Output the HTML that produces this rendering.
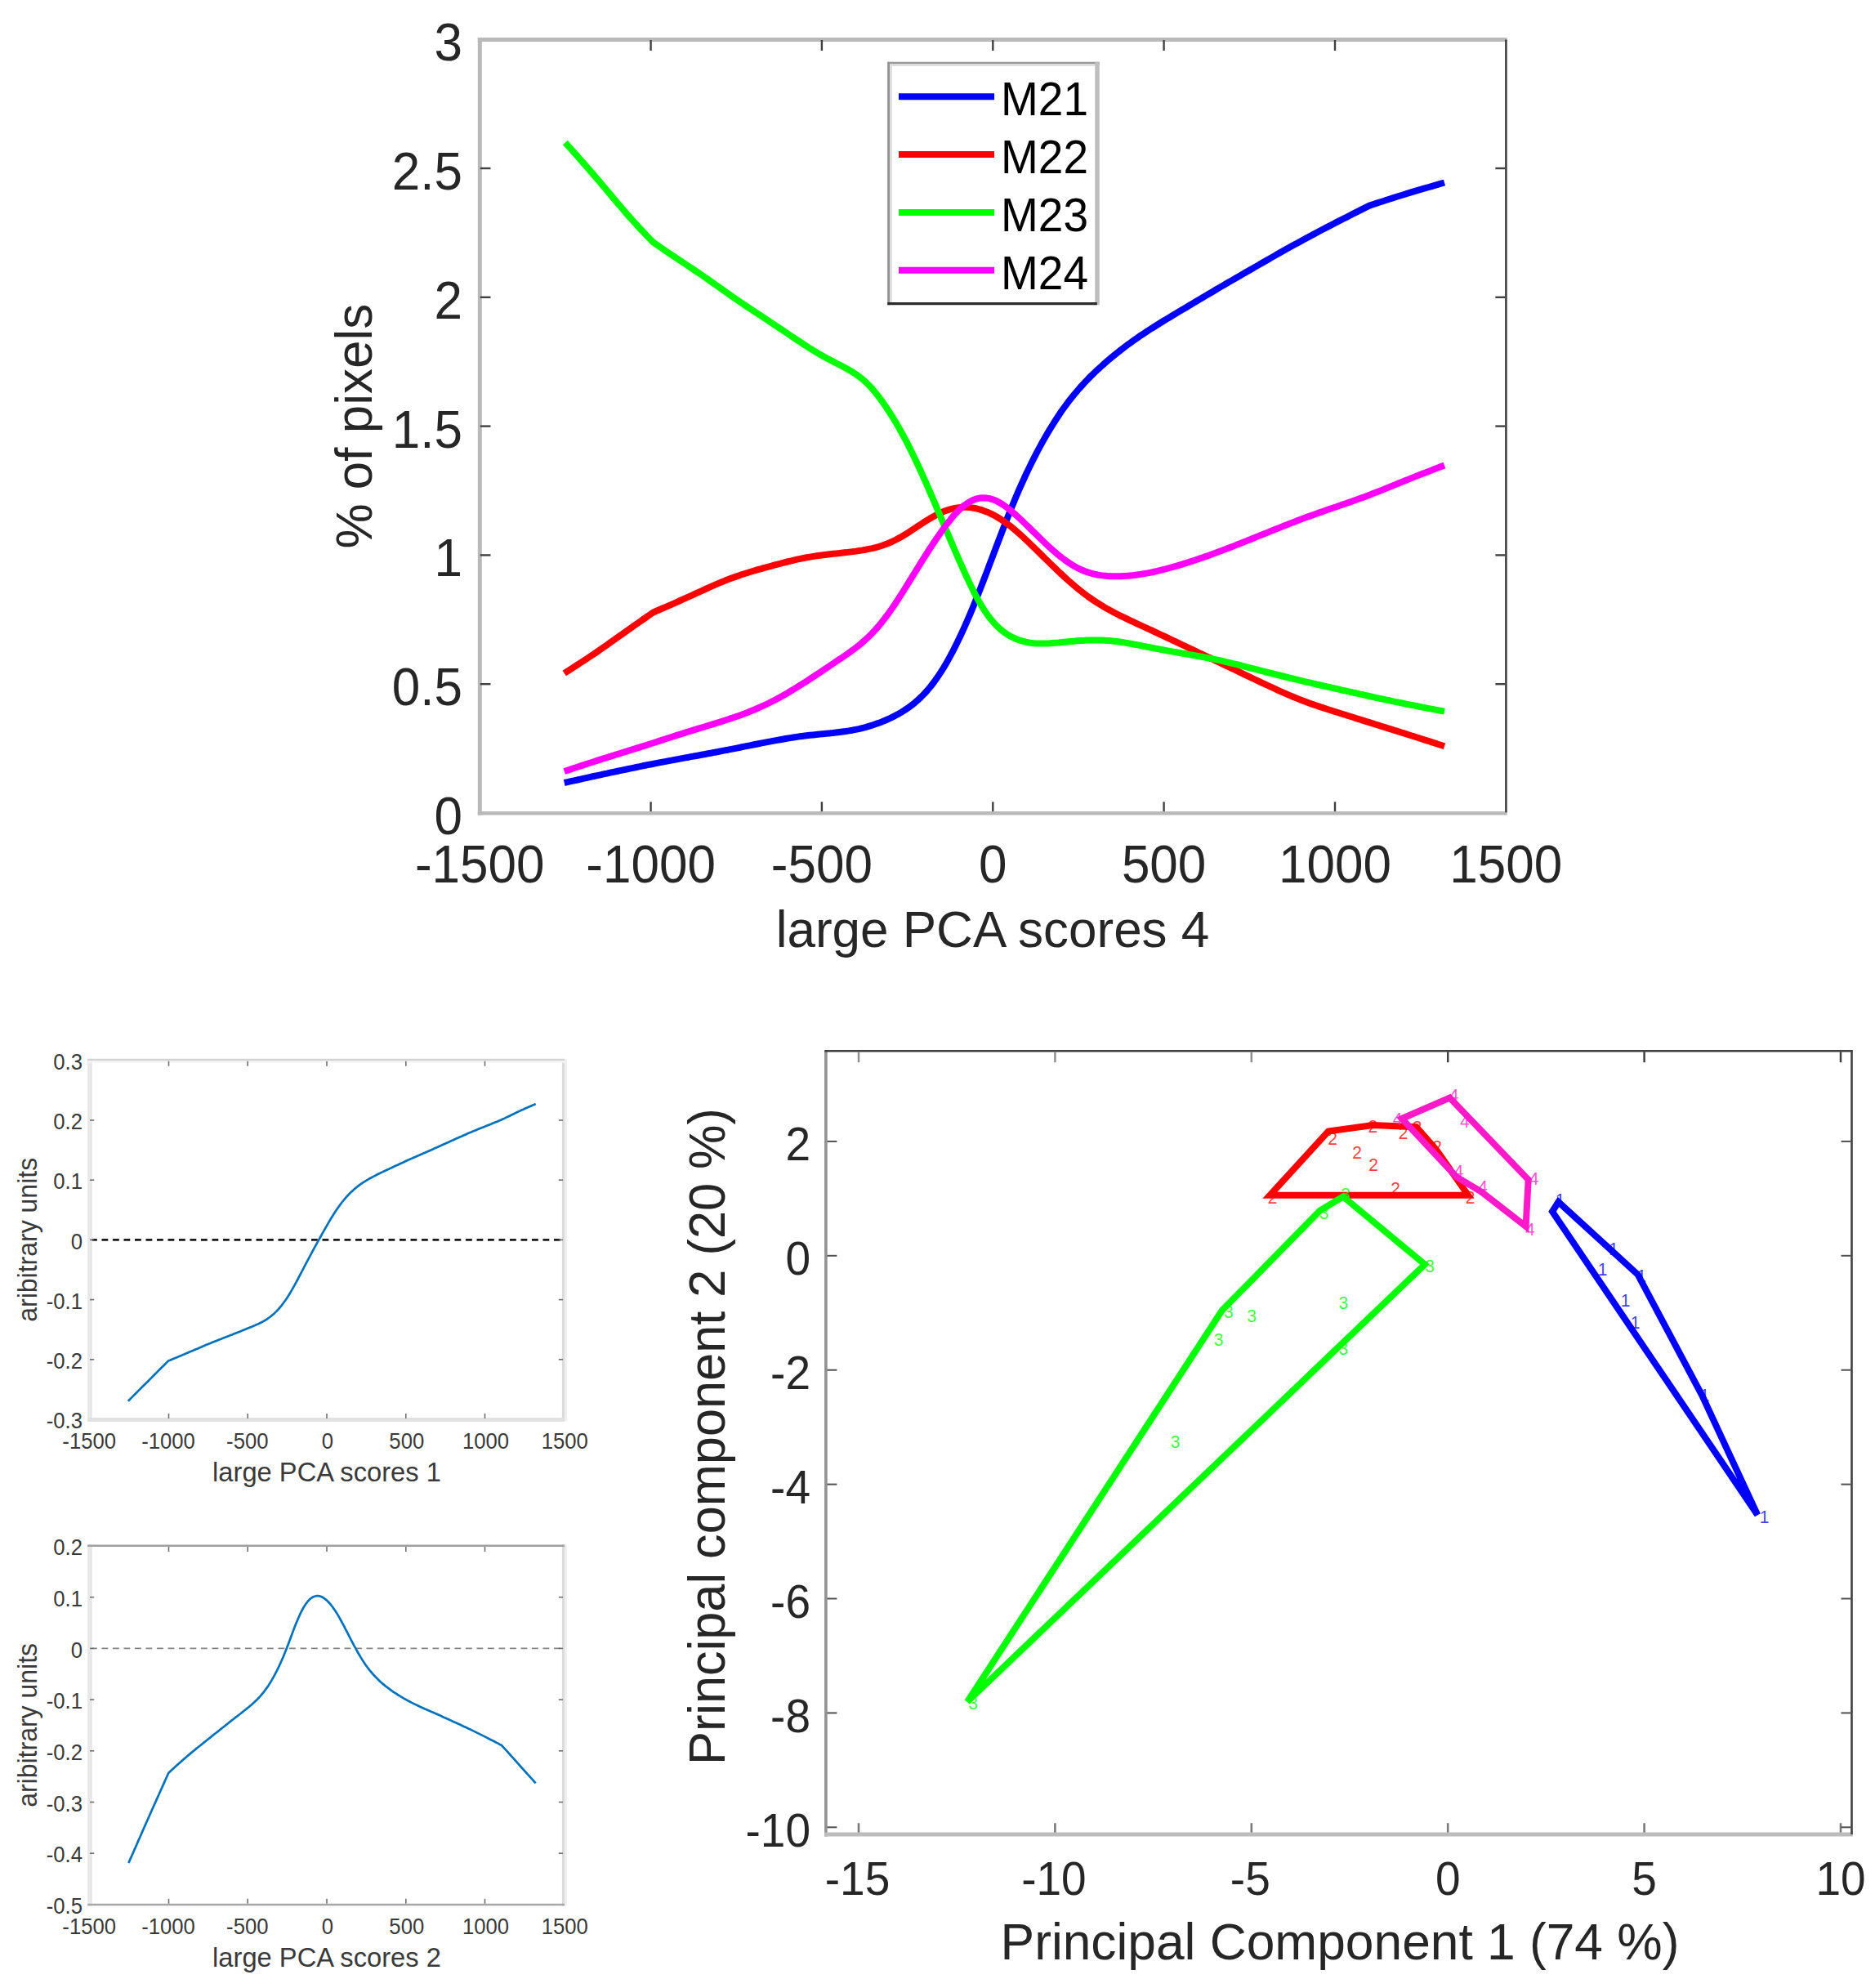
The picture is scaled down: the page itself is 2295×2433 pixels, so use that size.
<!DOCTYPE html>
<html><head><meta charset="utf-8"><title>PCA scores figure</title>
<style>
html,body{margin:0;padding:0;background:#fff;}
body{width:2295px;height:2433px;overflow:hidden;}
svg{display:block;font-family:'Liberation Sans', sans-serif;}
</style></head><body>
<svg width="2295" height="2433" viewBox="0 0 2295 2433">
<rect width="2295" height="2433" fill="#fff"/>
<g id="chartA">
<path d="M690.7 958 L694.7 957.1 L698.7 956.2 L702.7 955.3 L706.7 954.5 L710.7 953.6 L714.7 952.7 L718.7 951.8 L722.7 950.9 L726.8 950 L730.8 949.2 L734.8 948.3 L738.8 947.4 L742.8 946.6 L746.8 945.7 L750.8 944.8 L754.8 944 L758.8 943.1 L762.8 942.3 L766.8 941.5 L770.8 940.6 L774.8 939.8 L778.8 939 L782.8 938.2 L786.8 937.3 L790.9 936.5 L794.9 935.7 L798.9 935 L802.9 934.2 L806.9 933.4 L810.9 932.6 L814.9 931.9 L818.9 931.1 L822.9 930.4 L826.9 929.6 L830.9 928.9 L834.9 928.1 L838.9 927.4 L842.9 926.7 L846.9 925.9 L850.9 925.2 L855 924.5 L859 923.7 L863 923 L867 922.2 L871 921.5 L875 920.7 L879 920 L883 919.2 L887 918.4 L891 917.7 L895 916.9 L899 916.1 L903 915.3 L907 914.5 L911 913.7 L915 912.9 L919 912.1 L923.1 911.3 L927.1 910.5 L931.1 909.7 L935.1 908.9 L939.1 908.1 L943.1 907.4 L947.1 906.6 L951.1 905.9 L955.1 905.2 L959.1 904.5 L963.1 903.8 L967.1 903.1 L971.1 902.5 L975.1 901.9 L979.1 901.3 L983.1 900.8 L987.2 900.3 L991.2 899.8 L995.2 899.4 L999.2 899 L1003.2 898.6 L1007.2 898.2 L1011.2 897.8 L1015.2 897.4 L1019.2 897 L1023.2 896.5 L1027.2 896 L1031.2 895.5 L1035.2 895 L1039.2 894.4 L1043.2 893.7 L1047.2 892.9 L1051.2 892.1 L1055.3 891.1 L1059.3 890.1 L1063.3 888.9 L1067.3 887.7 L1071.3 886.3 L1075.3 884.9 L1079.3 883.4 L1083.3 881.7 L1087.3 880 L1091.3 878.1 L1095.3 876.1 L1099.3 873.9 L1103.3 871.6 L1107.3 869.1 L1111.3 866.4 L1115.3 863.5 L1119.4 860.3 L1123.4 856.8 L1127.4 853 L1131.4 849 L1135.4 844.5 L1139.4 839.7 L1143.4 834.5 L1147.4 828.9 L1151.4 822.9 L1155.4 816.5 L1159.4 809.7 L1163.4 802.4 L1167.4 794.8 L1171.4 786.8 L1175.4 778.5 L1179.4 769.8 L1183.5 760.7 L1187.5 751.4 L1191.5 741.7 L1195.5 731.8 L1199.5 721.6 L1203.5 711.3 L1207.5 700.8 L1211.5 690.2 L1215.5 679.6 L1219.5 669 L1223.5 658.5 L1227.5 648.1 L1231.5 637.8 L1235.5 627.7 L1239.5 617.9 L1243.5 608.2 L1247.5 598.9 L1251.6 589.8 L1255.6 581 L1259.6 572.6 L1263.6 564.4 L1267.6 556.6 L1271.6 549 L1275.6 541.7 L1279.6 534.6 L1283.6 527.8 L1287.6 521.2 L1291.6 514.8 L1295.6 508.7 L1299.6 502.8 L1303.6 497.2 L1307.6 491.8 L1311.6 486.7 L1315.7 481.7 L1319.7 477 L1323.7 472.5 L1327.7 468.1 L1331.7 463.9 L1335.7 459.9 L1339.7 456 L1343.7 452.2 L1347.7 448.6 L1351.7 445 L1355.7 441.5 L1359.7 438.2 L1363.7 434.9 L1367.7 431.6 L1371.7 428.5 L1375.7 425.4 L1379.7 422.3 L1383.8 419.4 L1387.8 416.5 L1391.8 413.7 L1395.8 410.9 L1399.8 408.3 L1403.8 405.6 L1407.8 403 L1411.8 400.5 L1415.8 398 L1419.8 395.5 L1423.8 393 L1427.8 390.6 L1431.8 388.2 L1435.8 385.8 L1439.8 383.4 L1443.8 380.9 L1447.9 378.6 L1451.9 376.2 L1455.9 373.8 L1459.9 371.4 L1463.9 369 L1467.9 366.6 L1471.9 364.2 L1475.9 361.9 L1479.9 359.5 L1483.9 357.2 L1487.9 354.8 L1491.9 352.4 L1495.9 350.1 L1499.9 347.8 L1503.9 345.4 L1507.9 343.1 L1512 340.8 L1516 338.5 L1520 336.1 L1524 333.8 L1528 331.5 L1532 329.2 L1536 326.9 L1540 324.6 L1544 322.3 L1548 320 L1552 317.7 L1556 315.4 L1560 313.1 L1564 310.8 L1568 308.5 L1572 306.3 L1576 304 L1580.1 301.8 L1584.1 299.6 L1588.1 297.4 L1592.1 295.2 L1596.1 293 L1600.1 290.9 L1604.1 288.7 L1608.1 286.6 L1612.1 284.4 L1616.1 282.3 L1620.1 280.2 L1624.1 278.1 L1628.1 276.1 L1632.1 274 L1636.1 271.9 L1640.1 269.9 L1644.2 267.8 L1648.2 265.8 L1652.2 263.7 L1656.2 261.7 L1660.2 259.7 L1664.2 257.7 L1668.2 255.6 L1672.2 253.6 L1676.2 251.6 L1680.4 250.2 L1684.5 248.9 L1688.7 247.5 L1692.9 246.2 L1697.1 244.8 L1701.2 243.5 L1705.4 242.1 L1709.6 240.8 L1713.8 239.5 L1717.9 238.2 L1722.1 236.9 L1726.3 235.6 L1730.4 234.4 L1734.6 233.1 L1738.8 231.9 L1743 230.7 L1747.1 229.5 L1751.3 228.3 L1755.5 227.1 L1759.7 225.9 L1763.8 224.7 L1768 223.5" fill="none" stroke="#0000ff" stroke-width="8" stroke-linejoin="round"/>
<path d="M690.7 824 L694.7 821.4 L698.8 818.8 L702.8 816.2 L706.8 813.6 L710.8 811 L714.9 808.4 L718.9 805.7 L722.9 803 L727 800.3 L731 797.6 L735 794.8 L739.1 792 L743.1 789.2 L747.1 786.3 L751.1 783.5 L755.2 780.6 L759.2 777.8 L763.2 774.9 L767.3 772 L771.3 769.2 L775.3 766.3 L779.4 763.5 L783.4 760.7 L787.4 757.9 L791.4 755.1 L795.5 752.3 L799.5 749.5 L803.5 747.8 L807.5 746 L811.5 744.3 L815.5 742.6 L819.5 740.8 L823.5 739.1 L827.5 737.3 L831.5 735.5 L835.5 733.7 L839.5 731.9 L843.5 730.1 L847.5 728.3 L851.5 726.4 L855.5 724.6 L859.5 722.8 L863.5 721 L867.5 719.2 L871.5 717.4 L875.5 715.6 L879.5 713.9 L883.5 712.3 L887.5 710.6 L891.5 709.1 L895.5 707.5 L899.6 706.1 L903.6 704.7 L907.6 703.3 L911.6 702 L915.6 700.8 L919.6 699.5 L923.6 698.4 L927.6 697.2 L931.6 696.1 L935.6 694.9 L939.6 693.9 L943.6 692.8 L947.6 691.7 L951.6 690.6 L955.6 689.6 L959.6 688.5 L963.6 687.5 L967.6 686.6 L971.6 685.6 L975.6 684.7 L979.6 683.8 L983.6 683 L987.6 682.3 L991.6 681.6 L995.6 680.9 L999.6 680.3 L1003.6 679.8 L1007.6 679.3 L1011.6 678.8 L1015.6 678.3 L1019.6 677.8 L1023.6 677.4 L1027.6 677 L1031.6 676.5 L1035.6 676.1 L1039.6 675.6 L1043.6 675.1 L1047.6 674.6 L1051.6 674 L1055.6 673.4 L1059.6 672.7 L1063.6 671.9 L1067.6 671.1 L1071.6 670.1 L1075.6 669 L1079.6 667.7 L1083.6 666.3 L1087.6 664.7 L1091.7 663 L1095.7 661 L1099.7 658.9 L1103.7 656.7 L1107.7 654.3 L1111.7 651.8 L1115.7 649.2 L1119.7 646.5 L1123.7 643.9 L1127.7 641.2 L1131.7 638.6 L1135.7 636.1 L1139.7 633.7 L1143.7 631.5 L1147.7 629.4 L1151.7 627.5 L1155.7 625.8 L1159.7 624.3 L1163.7 623.1 L1167.7 622.1 L1171.7 621.4 L1175.7 621 L1179.7 620.8 L1183.7 620.8 L1187.7 621.1 L1191.7 621.7 L1195.7 622.5 L1199.7 623.6 L1203.7 624.9 L1207.7 626.4 L1211.7 628.1 L1215.7 630.1 L1219.7 632.3 L1223.7 634.7 L1227.7 637.3 L1231.7 640.2 L1235.7 643.2 L1239.7 646.4 L1243.7 649.8 L1247.7 653.3 L1251.7 656.9 L1255.7 660.6 L1259.7 664.4 L1263.7 668.3 L1267.7 672.2 L1271.7 676.1 L1275.7 680.1 L1279.7 684 L1283.8 688 L1287.8 691.9 L1291.8 695.7 L1295.8 699.6 L1299.8 703.3 L1303.8 707 L1307.8 710.6 L1311.8 714.1 L1315.8 717.5 L1319.8 720.8 L1323.8 724 L1327.8 727.1 L1331.8 730.1 L1335.8 732.9 L1339.8 735.6 L1343.8 738.2 L1347.8 740.7 L1351.8 743.1 L1355.8 745.4 L1359.8 747.6 L1363.8 749.7 L1367.8 751.8 L1371.8 753.8 L1375.8 755.7 L1379.8 757.7 L1383.8 759.6 L1387.8 761.4 L1391.8 763.3 L1395.8 765.1 L1399.8 767 L1403.8 768.8 L1407.8 770.7 L1411.8 772.5 L1415.8 774.4 L1419.8 776.3 L1423.8 778.2 L1427.8 780 L1431.8 781.9 L1435.8 783.8 L1439.8 785.7 L1443.8 787.6 L1447.8 789.5 L1451.8 791.4 L1455.8 793.3 L1459.8 795.2 L1463.8 797.1 L1467.8 799 L1471.8 800.9 L1475.8 802.8 L1479.9 804.7 L1483.9 806.7 L1487.9 808.6 L1491.9 810.5 L1495.9 812.4 L1499.9 814.3 L1503.9 816.2 L1507.9 818.1 L1511.9 820 L1515.9 821.9 L1519.9 823.9 L1523.9 825.8 L1527.9 827.7 L1531.9 829.6 L1535.9 831.5 L1539.9 833.4 L1543.9 835.3 L1547.9 837.1 L1551.9 839 L1555.9 840.9 L1559.9 842.7 L1563.9 844.6 L1567.9 846.4 L1571.9 848.1 L1575.9 849.9 L1579.9 851.6 L1583.9 853.3 L1587.9 854.9 L1591.9 856.5 L1595.9 858 L1599.9 859.5 L1603.9 861 L1607.9 862.4 L1611.9 863.7 L1615.9 865.1 L1619.9 866.4 L1623.9 867.7 L1627.9 869 L1631.9 870.3 L1635.9 871.5 L1639.9 872.8 L1643.9 874 L1647.9 875.3 L1651.9 876.5 L1655.9 877.8 L1659.9 879.1 L1663.9 880.3 L1667.9 881.6 L1672 882.9 L1676 884.1 L1680 885.4 L1684 886.7 L1688 887.9 L1692 889.2 L1696 890.4 L1700 891.7 L1704 892.9 L1708 894.2 L1712 895.4 L1716 896.7 L1720 897.9 L1724 899.2 L1728 900.5 L1732 901.7 L1736 903 L1740 904.3 L1744 905.6 L1748 906.8 L1752 908.1 L1756 909.4 L1760 910.7 L1764 912 L1768 913.3" fill="none" stroke="#ff0000" stroke-width="8" stroke-linejoin="round"/>
<path d="M691.9 174.5 L696 179.1 L700.2 183.8 L704.3 188.4 L708.5 193.1 L712.6 197.8 L716.7 202.5 L720.9 207.3 L725 212 L729.1 216.9 L733.3 221.7 L737.4 226.6 L741.6 231.5 L745.7 236.4 L749.8 241.4 L754 246.3 L758.1 251.1 L762.3 256 L766.4 260.8 L770.5 265.5 L774.7 270.1 L778.8 274.7 L782.9 279.2 L787.1 283.6 L791.2 287.9 L795.4 292.2 L799.5 296.5 L803.5 299.3 L807.5 302 L811.5 304.7 L815.5 307.5 L819.5 310.2 L823.5 312.8 L827.5 315.5 L831.5 318.2 L835.5 320.8 L839.5 323.5 L843.5 326.2 L847.5 328.8 L851.5 331.6 L855.5 334.3 L859.5 337 L863.5 339.8 L867.5 342.6 L871.5 345.4 L875.5 348.2 L879.5 351.1 L883.5 353.9 L887.5 356.7 L891.5 359.6 L895.5 362.4 L899.6 365.2 L903.6 367.9 L907.6 370.7 L911.6 373.4 L915.6 376.1 L919.6 378.7 L923.6 381.4 L927.6 384 L931.6 386.6 L935.6 389.3 L939.6 391.9 L943.6 394.6 L947.6 397.3 L951.6 399.9 L955.6 402.6 L959.6 405.3 L963.6 408 L967.6 410.7 L971.6 413.4 L975.6 416.1 L979.6 418.7 L983.6 421.4 L987.6 423.9 L991.6 426.5 L995.6 428.9 L999.6 431.4 L1003.6 433.7 L1007.6 436 L1011.6 438.2 L1015.6 440.3 L1019.6 442.4 L1023.6 444.5 L1027.6 446.5 L1031.6 448.6 L1035.6 450.7 L1039.6 453 L1043.6 455.4 L1047.6 458 L1051.6 460.8 L1055.6 464 L1059.6 467.5 L1063.6 471.5 L1067.6 475.8 L1071.6 480.5 L1075.6 485.6 L1079.6 491 L1083.6 496.8 L1087.6 502.8 L1091.7 509.1 L1095.7 515.7 L1099.7 522.5 L1103.7 529.7 L1107.7 537 L1111.7 544.7 L1115.7 552.7 L1119.7 560.9 L1123.7 569.5 L1127.7 578.2 L1131.7 587.1 L1135.7 596.2 L1139.7 605.4 L1143.7 614.7 L1147.7 624 L1151.7 633.4 L1155.7 642.8 L1159.7 652.2 L1163.7 661.6 L1167.7 671 L1171.7 680.3 L1175.7 689.4 L1179.7 698.4 L1183.7 707.2 L1187.7 715.6 L1191.7 723.7 L1195.7 731.4 L1199.7 738.5 L1203.7 745.1 L1207.7 751.1 L1211.7 756.5 L1215.7 761.3 L1219.7 765.6 L1223.7 769.4 L1227.7 772.7 L1231.7 775.6 L1235.7 778.1 L1239.7 780.2 L1243.7 782 L1247.7 783.5 L1251.7 784.7 L1255.7 785.7 L1259.7 786.5 L1263.7 787 L1267.7 787.4 L1271.7 787.6 L1275.7 787.6 L1279.7 787.6 L1283.8 787.4 L1287.8 787.1 L1291.8 786.8 L1295.8 786.5 L1299.8 786.1 L1303.8 785.7 L1307.8 785.3 L1311.8 784.9 L1315.8 784.6 L1319.8 784.3 L1323.8 784 L1327.8 783.8 L1331.8 783.6 L1335.8 783.5 L1339.8 783.5 L1343.8 783.5 L1347.8 783.6 L1351.8 783.8 L1355.8 784 L1359.8 784.3 L1363.8 784.7 L1367.8 785.2 L1371.8 785.8 L1375.8 786.4 L1379.8 787 L1383.8 787.7 L1387.8 788.5 L1391.8 789.2 L1395.8 790 L1399.8 790.8 L1403.8 791.6 L1407.8 792.4 L1411.8 793.2 L1415.8 793.9 L1419.8 794.7 L1423.8 795.4 L1427.8 796.2 L1431.8 796.9 L1435.8 797.6 L1439.8 798.3 L1443.8 799 L1447.8 799.7 L1451.8 800.4 L1455.8 801.1 L1459.8 801.8 L1463.8 802.5 L1467.8 803.2 L1471.8 804 L1475.8 804.7 L1479.9 805.5 L1483.9 806.3 L1487.9 807.2 L1491.9 808 L1495.9 808.9 L1499.9 809.9 L1503.9 810.8 L1507.9 811.8 L1511.9 812.7 L1515.9 813.7 L1519.9 814.7 L1523.9 815.8 L1527.9 816.8 L1531.9 817.8 L1535.9 818.9 L1539.9 819.9 L1543.9 820.9 L1547.9 822 L1551.9 823 L1555.9 824 L1559.9 825 L1563.9 826 L1567.9 827 L1571.9 828 L1575.9 829 L1579.9 830 L1583.9 831 L1587.9 831.9 L1591.9 832.9 L1595.9 833.9 L1599.9 834.8 L1603.9 835.7 L1607.9 836.6 L1611.9 837.6 L1615.9 838.5 L1619.9 839.4 L1623.9 840.3 L1627.9 841.2 L1631.9 842.1 L1635.9 843 L1639.9 843.9 L1643.9 844.8 L1647.9 845.7 L1651.9 846.6 L1655.9 847.5 L1659.9 848.4 L1663.9 849.3 L1667.9 850.2 L1672 851.1 L1676 852 L1680 852.9 L1684 853.8 L1688 854.7 L1692 855.5 L1696 856.4 L1700 857.2 L1704 858.1 L1708 858.9 L1712 859.7 L1716 860.5 L1720 861.3 L1724 862.2 L1728 862.9 L1732 863.7 L1736 864.5 L1740 865.3 L1744 866.1 L1748 866.9 L1752 867.6 L1756 868.4 L1760 869.2 L1764 869.9 L1768 870.7" fill="none" stroke="#00ff00" stroke-width="8" stroke-linejoin="round"/>
<path d="M690.7 944 L694.7 942.7 L698.7 941.4 L702.7 940 L706.7 938.7 L710.7 937.4 L714.7 936.1 L718.7 934.8 L722.7 933.5 L726.7 932.2 L730.7 930.9 L734.8 929.6 L738.8 928.3 L742.8 927.1 L746.8 925.8 L750.8 924.6 L754.8 923.3 L758.8 922.1 L762.8 920.8 L766.8 919.6 L770.8 918.3 L774.8 917.1 L778.8 915.9 L782.8 914.6 L786.8 913.3 L790.8 912.1 L794.8 910.8 L798.8 909.5 L802.8 908.2 L806.8 906.9 L810.8 905.6 L814.8 904.3 L818.9 903 L822.9 901.7 L826.9 900.4 L830.9 899.1 L834.9 897.9 L838.9 896.6 L842.9 895.3 L846.9 894.1 L850.9 892.9 L854.9 891.7 L858.9 890.5 L862.9 889.3 L866.9 888 L870.9 886.8 L874.9 885.6 L878.9 884.3 L882.9 883.1 L886.9 881.8 L890.9 880.5 L894.9 879.1 L899 877.8 L903 876.4 L907 874.9 L911 873.4 L915 871.9 L919 870.3 L923 868.7 L927 867 L931 865.2 L935 863.4 L939 861.5 L943 859.5 L947 857.5 L951 855.4 L955 853.2 L959 851 L963 848.7 L967 846.3 L971 843.9 L975 841.4 L979 838.9 L983.1 836.4 L987.1 833.8 L991.1 831.2 L995.1 828.6 L999.1 825.9 L1003.1 823.3 L1007.1 820.6 L1011.1 817.9 L1015.1 815.2 L1019.1 812.5 L1023.1 809.8 L1027.1 807.2 L1031.1 804.5 L1035.1 801.8 L1039.1 799 L1043.1 796.1 L1047.1 793.1 L1051.1 790 L1055.1 786.6 L1059.1 783.1 L1063.1 779.3 L1067.2 775.3 L1071.2 771 L1075.2 766.5 L1079.2 761.6 L1083.2 756.5 L1087.2 751.2 L1091.2 745.5 L1095.2 739.7 L1099.2 733.6 L1103.2 727.4 L1107.2 721 L1111.2 714.6 L1115.2 708.1 L1119.2 701.6 L1123.2 695.2 L1127.2 688.7 L1131.2 682.3 L1135.2 676 L1139.2 669.8 L1143.2 663.7 L1147.3 657.7 L1151.3 651.9 L1155.3 646.3 L1159.3 640.9 L1163.3 635.9 L1167.3 631.1 L1171.3 626.7 L1175.3 622.8 L1179.3 619.3 L1183.3 616.4 L1187.3 613.9 L1191.3 611.9 L1195.3 610.5 L1199.3 609.6 L1203.3 609.2 L1207.3 609.4 L1211.3 610.1 L1215.3 611.3 L1219.3 612.9 L1223.3 615 L1227.3 617.5 L1231.4 620.3 L1235.4 623.4 L1239.4 626.7 L1243.4 630.2 L1247.4 633.9 L1251.4 637.6 L1255.4 641.5 L1259.4 645.3 L1263.4 649.3 L1267.4 653.2 L1271.4 657.1 L1275.4 661 L1279.4 664.9 L1283.4 668.6 L1287.4 672.3 L1291.4 675.8 L1295.4 679.2 L1299.4 682.4 L1303.4 685.4 L1307.4 688.2 L1311.4 690.8 L1315.5 693.2 L1319.5 695.4 L1323.5 697.3 L1327.5 699 L1331.5 700.4 L1335.5 701.6 L1339.5 702.7 L1343.5 703.5 L1347.5 704.1 L1351.5 704.6 L1355.5 705 L1359.5 705.2 L1363.5 705.3 L1367.5 705.3 L1371.5 705.2 L1375.5 705 L1379.5 704.8 L1383.5 704.4 L1387.5 704 L1391.5 703.5 L1395.6 702.9 L1399.6 702.3 L1403.6 701.6 L1407.6 700.8 L1411.6 700 L1415.6 699.1 L1419.6 698.1 L1423.6 697.1 L1427.6 696.1 L1431.6 695 L1435.6 693.9 L1439.6 692.8 L1443.6 691.6 L1447.6 690.4 L1451.6 689.1 L1455.6 687.9 L1459.6 686.6 L1463.6 685.2 L1467.6 683.9 L1471.6 682.5 L1475.6 681.1 L1479.7 679.7 L1483.7 678.2 L1487.7 676.8 L1491.7 675.3 L1495.7 673.8 L1499.7 672.3 L1503.7 670.7 L1507.7 669.2 L1511.7 667.6 L1515.7 666 L1519.7 664.5 L1523.7 662.9 L1527.7 661.3 L1531.7 659.7 L1535.7 658 L1539.7 656.4 L1543.7 654.8 L1547.7 653.2 L1551.7 651.6 L1555.7 650 L1559.7 648.3 L1563.8 646.7 L1567.8 645.1 L1571.8 643.6 L1575.8 642 L1579.8 640.4 L1583.8 638.9 L1587.8 637.3 L1591.8 635.8 L1595.8 634.3 L1599.8 632.8 L1603.8 631.4 L1607.8 629.9 L1611.8 628.5 L1615.8 627.1 L1619.8 625.7 L1623.8 624.3 L1627.8 622.9 L1631.8 621.5 L1635.8 620.2 L1639.8 618.8 L1643.9 617.4 L1647.9 616 L1651.9 614.6 L1655.9 613.2 L1659.9 611.8 L1663.9 610.3 L1667.9 608.9 L1671.9 607.4 L1675.9 605.9 L1679.9 604.3 L1683.9 602.8 L1687.9 601.2 L1691.9 599.6 L1695.9 598 L1699.9 596.4 L1703.9 594.8 L1707.9 593.1 L1711.9 591.5 L1715.9 589.9 L1719.9 588.2 L1723.9 586.6 L1728 585 L1732 583.4 L1736 581.8 L1740 580.3 L1744 578.7 L1748 577.2 L1752 575.6 L1756 574.1 L1760 572.6 L1764 571 L1768 569.5" fill="none" stroke="#ff00ff" stroke-width="8" stroke-linejoin="round"/>
<line x1="587.3" y1="46" x2="587.3" y2="997.6" stroke="#b9b9b9" stroke-width="5"/>
<line x1="584.8" y1="48.5" x2="1844.7" y2="48.5" stroke="#b9b9b9" stroke-width="5"/>
<line x1="584.8" y1="995.3" x2="1844.7" y2="995.3" stroke="#b9b9b9" stroke-width="4.6"/>
<line x1="1843.4" y1="48.5" x2="1843.4" y2="994.3" stroke="#404040" stroke-width="2.6"/>
<line x1="796.6" y1="993" x2="796.6" y2="981.3" stroke="#404040" stroke-width="2.4"/>
<line x1="796.6" y1="49" x2="796.6" y2="62" stroke="#404040" stroke-width="2.4"/>
<line x1="1005.9" y1="993" x2="1005.9" y2="981.3" stroke="#404040" stroke-width="2.4"/>
<line x1="1005.9" y1="49" x2="1005.9" y2="62" stroke="#404040" stroke-width="2.4"/>
<line x1="1215.3" y1="993" x2="1215.3" y2="981.3" stroke="#404040" stroke-width="2.4"/>
<line x1="1215.3" y1="49" x2="1215.3" y2="62" stroke="#404040" stroke-width="2.4"/>
<line x1="1424.6" y1="993" x2="1424.6" y2="981.3" stroke="#404040" stroke-width="2.4"/>
<line x1="1424.6" y1="49" x2="1424.6" y2="62" stroke="#404040" stroke-width="2.4"/>
<line x1="1634" y1="993" x2="1634" y2="981.3" stroke="#404040" stroke-width="2.4"/>
<line x1="1634" y1="49" x2="1634" y2="62" stroke="#404040" stroke-width="2.4"/>
<line x1="587.8" y1="837.2" x2="600.5" y2="837.2" stroke="#404040" stroke-width="2.4"/>
<line x1="1842.1" y1="837.2" x2="1830.4" y2="837.2" stroke="#404040" stroke-width="2.4"/>
<line x1="587.8" y1="679.4" x2="600.5" y2="679.4" stroke="#404040" stroke-width="2.4"/>
<line x1="1842.1" y1="679.4" x2="1830.4" y2="679.4" stroke="#404040" stroke-width="2.4"/>
<line x1="587.8" y1="521.6" x2="600.5" y2="521.6" stroke="#404040" stroke-width="2.4"/>
<line x1="1842.1" y1="521.6" x2="1830.4" y2="521.6" stroke="#404040" stroke-width="2.4"/>
<line x1="587.8" y1="363.8" x2="600.5" y2="363.8" stroke="#404040" stroke-width="2.4"/>
<line x1="1842.1" y1="363.8" x2="1830.4" y2="363.8" stroke="#404040" stroke-width="2.4"/>
<line x1="587.8" y1="206" x2="600.5" y2="206" stroke="#404040" stroke-width="2.4"/>
<line x1="1842.1" y1="206" x2="1830.4" y2="206" stroke="#404040" stroke-width="2.4"/>
<text x="0" y="0" font-size="62" text-anchor="middle" fill="#262626" transform="translate(587.2 1080) scale(1 1.04)">-1500</text>
<text x="0" y="0" font-size="62" text-anchor="middle" fill="#262626" transform="translate(796.6 1080) scale(1 1.04)">-1000</text>
<text x="0" y="0" font-size="62" text-anchor="middle" fill="#262626" transform="translate(1005.9 1080) scale(1 1.04)">-500</text>
<text x="0" y="0" font-size="62" text-anchor="middle" fill="#262626" transform="translate(1215.3 1080) scale(1 1.04)">0</text>
<text x="0" y="0" font-size="62" text-anchor="middle" fill="#262626" transform="translate(1424.6 1080) scale(1 1.04)">500</text>
<text x="0" y="0" font-size="62" text-anchor="middle" fill="#262626" transform="translate(1634 1080) scale(1 1.04)">1000</text>
<text x="0" y="0" font-size="62" text-anchor="middle" fill="#262626" transform="translate(1843.3 1080) scale(1 1.04)">1500</text>
<text x="0" y="0" font-size="62" text-anchor="end" fill="#262626" transform="translate(566 1021) scale(1 1.04)">0</text>
<text x="0" y="0" font-size="62" text-anchor="end" fill="#262626" transform="translate(566 863.2) scale(1 1.04)">0.5</text>
<text x="0" y="0" font-size="62" text-anchor="end" fill="#262626" transform="translate(566 705.4) scale(1 1.04)">1</text>
<text x="0" y="0" font-size="62" text-anchor="end" fill="#262626" transform="translate(566 547.6) scale(1 1.04)">1.5</text>
<text x="0" y="0" font-size="62" text-anchor="end" fill="#262626" transform="translate(566 389.8) scale(1 1.04)">2</text>
<text x="0" y="0" font-size="62" text-anchor="end" fill="#262626" transform="translate(566 232) scale(1 1.04)">2.5</text>
<text x="0" y="0" font-size="62" text-anchor="end" fill="#262626" transform="translate(566 74.2) scale(1 1.04)">3</text>
<text x="0" y="0" font-size="62" text-anchor="middle" fill="#262626" transform="translate(1215 1159) scale(1 1.02)">large PCA scores 4</text>
<text x="0" y="0" font-size="62" text-anchor="middle" fill="#262626" transform="translate(454.5 521.6) rotate(-90) scale(1 1.02)">% of pixels</text>
<rect x="1086.2" y="75.8" width="259.5" height="297.4" fill="#fff"/>
<line x1="1087.7" y1="75.8" x2="1087.7" y2="373.2" stroke="#929292" stroke-width="3"/>
<line x1="1090.5" y1="77" x2="1090.5" y2="370" stroke="#dddddd" stroke-width="2.6"/>
<line x1="1086.2" y1="77.1" x2="1345.7" y2="77.1" stroke="#999999" stroke-width="2.6"/>
<line x1="1089.2" y1="79.6" x2="1340.2" y2="79.6" stroke="#dedede" stroke-width="2.6"/>
<line x1="1343" y1="75.8" x2="1343" y2="373.2" stroke="#bebebe" stroke-width="5.5"/>
<line x1="1086.2" y1="371.6" x2="1342.8" y2="371.6" stroke="#2a2a2a" stroke-width="3.2"/>
<line x1="1100" y1="118.3" x2="1217" y2="118.3" stroke="#0000ff" stroke-width="8"/>
<text x="0" y="0" font-size="55" text-anchor="start" fill="#000" transform="translate(1225 141.1) scale(1 1.04)">M21</text>
<line x1="1100" y1="189.1" x2="1217" y2="189.1" stroke="#ff0000" stroke-width="8"/>
<text x="0" y="0" font-size="55" text-anchor="start" fill="#000" transform="translate(1225 211.9) scale(1 1.04)">M22</text>
<line x1="1100" y1="259.9" x2="1217" y2="259.9" stroke="#00ff00" stroke-width="8"/>
<text x="0" y="0" font-size="55" text-anchor="start" fill="#000" transform="translate(1225 282.7) scale(1 1.04)">M23</text>
<line x1="1100" y1="330.7" x2="1217" y2="330.7" stroke="#ff00ff" stroke-width="8"/>
<text x="0" y="0" font-size="55" text-anchor="start" fill="#000" transform="translate(1225 353.5) scale(1 1.04)">M24</text>
</g>
<g id="chartB">
<line x1="111" y1="1517.4" x2="689" y2="1517.4" stroke="#1a1a1a" stroke-width="2.6" stroke-dasharray="7.8 5.7"/>
<path d="M156.8 1714.7 L158.8 1712.7 L160.9 1710.6 L162.9 1708.6 L165 1706.5 L167 1704.5 L169.1 1702.4 L171.1 1700.4 L173.2 1698.3 L175.2 1696.3 L177.3 1694.2 L179.3 1692.2 L181.4 1690.2 L183.4 1688.1 L185.4 1686.1 L187.5 1684 L189.5 1682 L191.6 1679.9 L193.6 1677.9 L195.7 1675.8 L197.7 1673.8 L199.8 1671.7 L201.8 1669.7 L203.9 1667.6 L205.9 1665.6 L207.9 1664.8 L209.9 1663.9 L211.9 1663.1 L213.9 1662.2 L215.9 1661.4 L217.9 1660.6 L219.9 1659.7 L221.9 1658.9 L223.9 1658 L226 1657.2 L228 1656.3 L230 1655.5 L232 1654.6 L234 1653.8 L236 1652.9 L238 1652.1 L240 1651.2 L242 1650.4 L244 1649.5 L246 1648.7 L248 1647.8 L250 1647 L252 1646.1 L254 1645.3 L256 1644.5 L258 1643.7 L260 1642.8 L262.1 1642 L264.1 1641.2 L266.1 1640.4 L268.1 1639.6 L270.1 1638.9 L272.1 1638.1 L274.1 1637.3 L276.1 1636.5 L278.1 1635.7 L280.1 1634.9 L282.1 1634.1 L284.1 1633.4 L286.1 1632.6 L288.1 1631.8 L290.1 1631 L292.1 1630.2 L294.1 1629.4 L296.1 1628.6 L298.1 1627.7 L300.2 1626.9 L302.2 1626.1 L304.2 1625.3 L306.2 1624.5 L308.2 1623.7 L310.2 1622.8 L312.2 1622 L314.2 1621.1 L316.2 1620.2 L318.2 1619.2 L320.2 1618.2 L322.2 1617.1 L324.2 1616 L326.2 1614.8 L328.2 1613.4 L330.2 1612 L332.2 1610.4 L334.2 1608.7 L336.3 1606.9 L338.3 1604.9 L340.3 1602.8 L342.3 1600.5 L344.3 1598.1 L346.3 1595.5 L348.3 1592.8 L350.3 1589.9 L352.3 1586.9 L354.3 1583.7 L356.3 1580.4 L358.3 1576.9 L360.3 1573.4 L362.3 1569.7 L364.3 1566 L366.3 1562.2 L368.3 1558.4 L370.3 1554.5 L372.3 1550.6 L374.4 1546.7 L376.4 1542.9 L378.4 1539.1 L380.4 1535.3 L382.4 1531.6 L384.4 1527.9 L386.4 1524.3 L388.4 1520.7 L390.4 1517.1 L392.4 1513.5 L394.4 1509.9 L396.4 1506.3 L398.4 1502.8 L400.4 1499.3 L402.4 1495.9 L404.4 1492.5 L406.4 1489.2 L408.4 1486 L410.5 1482.8 L412.5 1479.8 L414.5 1476.9 L416.5 1474.2 L418.5 1471.5 L420.5 1469 L422.5 1466.6 L424.5 1464.3 L426.5 1462.2 L428.5 1460.1 L430.5 1458.2 L432.5 1456.4 L434.5 1454.6 L436.5 1453 L438.5 1451.4 L440.5 1449.9 L442.5 1448.5 L444.5 1447.2 L446.6 1445.9 L448.6 1444.6 L450.6 1443.4 L452.6 1442.3 L454.6 1441.2 L456.6 1440.1 L458.6 1439.1 L460.6 1438 L462.6 1437 L464.6 1436 L466.6 1435.1 L468.6 1434.1 L470.6 1433.2 L472.6 1432.2 L474.6 1431.3 L476.6 1430.4 L478.6 1429.4 L480.6 1428.5 L482.6 1427.5 L484.7 1426.6 L486.7 1425.7 L488.7 1424.7 L490.7 1423.8 L492.7 1422.9 L494.7 1422 L496.7 1421 L498.7 1420.1 L500.7 1419.2 L502.7 1418.3 L504.7 1417.5 L506.7 1416.6 L508.7 1415.7 L510.7 1414.8 L512.7 1414 L514.7 1413.1 L516.7 1412.2 L518.7 1411.3 L520.8 1410.4 L522.8 1409.6 L524.8 1408.7 L526.8 1407.8 L528.8 1406.9 L530.8 1406 L532.8 1405.1 L534.8 1404.2 L536.8 1403.3 L538.8 1402.4 L540.8 1401.5 L542.8 1400.6 L544.8 1399.7 L546.8 1398.8 L548.8 1397.9 L550.8 1397 L552.8 1396.1 L554.8 1395.2 L556.8 1394.2 L558.9 1393.3 L560.9 1392.4 L562.9 1391.5 L564.9 1390.7 L566.9 1389.8 L568.9 1388.9 L570.9 1388 L572.9 1387.1 L574.9 1386.3 L576.9 1385.4 L578.9 1384.6 L580.9 1383.8 L582.9 1382.9 L584.9 1382.1 L586.9 1381.3 L588.9 1380.5 L590.9 1379.7 L592.9 1378.9 L595 1378.1 L597 1377.3 L599 1376.5 L601 1375.7 L603 1374.8 L605 1374 L607 1373.2 L609 1372.4 L611 1371.6 L613 1370.8 L615 1369.8 L617.1 1368.9 L619.1 1367.9 L621.1 1366.9 L623.2 1366 L625.2 1365 L627.2 1364 L629.3 1363 L631.3 1362 L633.3 1361 L635.4 1360.1 L637.4 1359.1 L639.4 1358.2 L641.5 1357.2 L643.5 1356.3 L645.5 1355.4 L647.6 1354.6 L649.6 1353.7 L651.6 1352.8 L653.7 1352 L655.7 1351.1" fill="none" stroke="#0072bd" stroke-width="2.7" stroke-linejoin="round"/>
<line x1="110" y1="1296.2" x2="110" y2="1739" stroke="#e8e8e8" stroke-width="5.6"/>
<line x1="692.6" y1="1296.2" x2="692.6" y2="1739" stroke="#f0f0f0" stroke-width="3.0"/>
<line x1="689.5" y1="1296.2" x2="689.5" y2="1739" stroke="#dcdcdc" stroke-width="3.2"/>
<line x1="107.2" y1="1297" x2="691.1" y2="1297" stroke="#d2d2d2" stroke-width="2.3"/>
<line x1="107.2" y1="1299.4" x2="691.1" y2="1299.4" stroke="#f3f3f3" stroke-width="2.6"/>
<line x1="107.2" y1="1737.5" x2="691.1" y2="1737.5" stroke="#e1e1e1" stroke-width="4.8"/>
<line x1="206.5" y1="1736" x2="206.5" y2="1730" stroke="#707070" stroke-width="1.6"/>
<line x1="206.5" y1="1298.7" x2="206.5" y2="1304.7" stroke="#707070" stroke-width="1.6"/>
<line x1="303.2" y1="1736" x2="303.2" y2="1730" stroke="#707070" stroke-width="1.6"/>
<line x1="303.2" y1="1298.7" x2="303.2" y2="1304.7" stroke="#707070" stroke-width="1.6"/>
<line x1="400" y1="1736" x2="400" y2="1730" stroke="#707070" stroke-width="1.6"/>
<line x1="400" y1="1298.7" x2="400" y2="1304.7" stroke="#707070" stroke-width="1.6"/>
<line x1="496.8" y1="1736" x2="496.8" y2="1730" stroke="#707070" stroke-width="1.6"/>
<line x1="496.8" y1="1298.7" x2="496.8" y2="1304.7" stroke="#707070" stroke-width="1.6"/>
<line x1="593.5" y1="1736" x2="593.5" y2="1730" stroke="#707070" stroke-width="1.6"/>
<line x1="593.5" y1="1298.7" x2="593.5" y2="1304.7" stroke="#707070" stroke-width="1.6"/>
<text x="0" y="0" font-size="25.7" text-anchor="end" fill="#3a3a3a" transform="translate(101 1308.9) scale(1 1.04)">0.3</text>
<line x1="110" y1="1371" x2="115.2" y2="1371" stroke="#707070" stroke-width="1.6"/>
<line x1="689" y1="1371" x2="683.8" y2="1371" stroke="#707070" stroke-width="1.6"/>
<text x="0" y="0" font-size="25.7" text-anchor="end" fill="#3a3a3a" transform="translate(101 1382.2) scale(1 1.04)">0.2</text>
<line x1="110" y1="1444.2" x2="115.2" y2="1444.2" stroke="#707070" stroke-width="1.6"/>
<line x1="689" y1="1444.2" x2="683.8" y2="1444.2" stroke="#707070" stroke-width="1.6"/>
<text x="0" y="0" font-size="25.7" text-anchor="end" fill="#3a3a3a" transform="translate(101 1455.4) scale(1 1.04)">0.1</text>
<line x1="110" y1="1517.4" x2="115.2" y2="1517.4" stroke="#707070" stroke-width="1.6"/>
<line x1="689" y1="1517.4" x2="683.8" y2="1517.4" stroke="#707070" stroke-width="1.6"/>
<text x="0" y="0" font-size="25.7" text-anchor="end" fill="#3a3a3a" transform="translate(101 1528.6) scale(1 1.04)">0</text>
<line x1="110" y1="1590.6" x2="115.2" y2="1590.6" stroke="#707070" stroke-width="1.6"/>
<line x1="689" y1="1590.6" x2="683.8" y2="1590.6" stroke="#707070" stroke-width="1.6"/>
<text x="0" y="0" font-size="25.7" text-anchor="end" fill="#3a3a3a" transform="translate(101 1601.8) scale(1 1.04)">-0.1</text>
<line x1="110" y1="1663.8" x2="115.2" y2="1663.8" stroke="#707070" stroke-width="1.6"/>
<line x1="689" y1="1663.8" x2="683.8" y2="1663.8" stroke="#707070" stroke-width="1.6"/>
<text x="0" y="0" font-size="25.7" text-anchor="end" fill="#3a3a3a" transform="translate(101 1675) scale(1 1.04)">-0.2</text>
<text x="0" y="0" font-size="25.7" text-anchor="end" fill="#3a3a3a" transform="translate(101 1748.3) scale(1 1.04)">-0.3</text>
<text x="0" y="0" font-size="25.7" text-anchor="middle" fill="#3a3a3a" transform="translate(109.2 1772.5) scale(1 1.04)">-1500</text>
<text x="0" y="0" font-size="25.7" text-anchor="middle" fill="#3a3a3a" transform="translate(206 1772.5) scale(1 1.04)">-1000</text>
<text x="0" y="0" font-size="25.7" text-anchor="middle" fill="#3a3a3a" transform="translate(302.8 1772.5) scale(1 1.04)">-500</text>
<text x="0" y="0" font-size="25.7" text-anchor="middle" fill="#3a3a3a" transform="translate(401 1772.5) scale(1 1.04)">0</text>
<text x="0" y="0" font-size="25.7" text-anchor="middle" fill="#3a3a3a" transform="translate(497.8 1772.5) scale(1 1.04)">500</text>
<text x="0" y="0" font-size="25.7" text-anchor="middle" fill="#3a3a3a" transform="translate(594.5 1772.5) scale(1 1.04)">1000</text>
<text x="0" y="0" font-size="25.7" text-anchor="middle" fill="#3a3a3a" transform="translate(691.2 1772.5) scale(1 1.04)">1500</text>
<text x="0" y="0" font-size="32.7" text-anchor="middle" fill="#3a3a3a" transform="translate(400 1812.8) scale(1 1.02)">large PCA scores 1</text>
<text x="0" y="0" font-size="32" text-anchor="middle" fill="#3a3a3a" transform="translate(44.8 1517.3) rotate(-90) scale(1 1.02)">aribitrary units</text>
</g>
<g id="chartC">
<line x1="111" y1="2017.4" x2="689" y2="2017.4" stroke="#858585" stroke-width="1.9" stroke-dasharray="7.8 5.7"/>
<path d="M157.4 2280 L159.4 2275.4 L161.5 2270.7 L163.5 2266.1 L165.6 2261.4 L167.6 2256.8 L169.6 2252.1 L171.7 2247.5 L173.7 2242.9 L175.7 2238.3 L177.8 2233.6 L179.8 2229 L181.9 2224.4 L183.9 2219.8 L185.9 2215.3 L188 2210.7 L190 2206.1 L192 2201.6 L194.1 2197 L196.1 2192.5 L198.2 2187.9 L200.2 2183.4 L202.2 2178.9 L204.3 2174.3 L206.3 2169.8 L208.3 2167.9 L210.3 2166.1 L212.3 2164.2 L214.3 2162.4 L216.3 2160.6 L218.4 2158.8 L220.4 2157 L222.4 2155.2 L224.4 2153.4 L226.4 2151.7 L228.4 2150 L230.4 2148.3 L232.4 2146.6 L234.4 2144.9 L236.4 2143.2 L238.4 2141.6 L240.4 2139.9 L242.5 2138.3 L244.5 2136.7 L246.5 2135.1 L248.5 2133.5 L250.5 2131.9 L252.5 2130.3 L254.5 2128.7 L256.5 2127.1 L258.5 2125.5 L260.5 2123.9 L262.5 2122.3 L264.5 2120.7 L266.6 2119.1 L268.6 2117.5 L270.6 2115.9 L272.6 2114.3 L274.6 2112.7 L276.6 2111.1 L278.6 2109.5 L280.6 2107.9 L282.6 2106.4 L284.6 2104.8 L286.6 2103.2 L288.6 2101.6 L290.7 2100.1 L292.7 2098.5 L294.7 2097 L296.7 2095.4 L298.7 2093.8 L300.7 2092.2 L302.7 2090.6 L304.7 2089 L306.7 2087.3 L308.7 2085.6 L310.7 2083.7 L312.7 2081.8 L314.8 2079.9 L316.8 2077.8 L318.8 2075.6 L320.8 2073.2 L322.8 2070.8 L324.8 2068.1 L326.8 2065.4 L328.8 2062.4 L330.8 2059.2 L332.8 2055.9 L334.8 2052.4 L336.8 2048.6 L338.9 2044.7 L340.9 2040.6 L342.9 2036.3 L344.9 2031.8 L346.9 2027.2 L348.9 2022.3 L350.9 2017.3 L352.9 2012 L354.9 2006.7 L356.9 2001.3 L358.9 1995.9 L360.9 1990.6 L363 1985.5 L365 1980.7 L367 1976.2 L369 1972 L371 1968.3 L373 1964.9 L375 1962 L377 1959.5 L379 1957.4 L381 1955.8 L383 1954.5 L385 1953.7 L387.1 1953.2 L389.1 1953.1 L391.1 1953.4 L393.1 1954 L395.1 1955 L397.1 1956.3 L399.1 1957.8 L401.1 1959.7 L403.1 1961.8 L405.1 1964.2 L407.1 1966.8 L409.1 1969.6 L411.2 1972.7 L413.2 1975.9 L415.2 1979.4 L417.2 1983 L419.2 1986.7 L421.2 1990.4 L423.2 1994.3 L425.2 1998.2 L427.2 2002.1 L429.2 2006 L431.2 2009.9 L433.2 2013.7 L435.3 2017.4 L437.3 2021 L439.3 2024.5 L441.3 2027.9 L443.3 2031.1 L445.3 2034.2 L447.3 2037.2 L449.3 2040 L451.3 2042.6 L453.3 2045.2 L455.3 2047.5 L457.3 2049.8 L459.4 2052 L461.4 2054 L463.4 2056 L465.4 2057.9 L467.4 2059.7 L469.4 2061.4 L471.4 2063.1 L473.4 2064.7 L475.4 2066.2 L477.4 2067.7 L479.4 2069.2 L481.4 2070.6 L483.5 2071.9 L485.5 2073.2 L487.5 2074.5 L489.5 2075.7 L491.5 2076.9 L493.5 2078.1 L495.5 2079.3 L497.5 2080.4 L499.5 2081.5 L501.5 2082.5 L503.5 2083.6 L505.5 2084.6 L507.6 2085.6 L509.6 2086.6 L511.6 2087.5 L513.6 2088.5 L515.6 2089.4 L517.6 2090.3 L519.6 2091.2 L521.6 2092 L523.6 2092.9 L525.6 2093.8 L527.6 2094.7 L529.6 2095.5 L531.7 2096.4 L533.7 2097.3 L535.7 2098.2 L537.7 2099.1 L539.7 2100 L541.7 2101 L543.7 2101.9 L545.7 2102.8 L547.7 2103.7 L549.7 2104.6 L551.7 2105.6 L553.7 2106.5 L555.8 2107.4 L557.8 2108.3 L559.8 2109.2 L561.8 2110.1 L563.8 2111 L565.8 2112 L567.8 2112.9 L569.8 2113.8 L571.8 2114.7 L573.8 2115.7 L575.8 2116.6 L577.8 2117.6 L579.9 2118.6 L581.9 2119.6 L583.9 2120.6 L585.9 2121.6 L587.9 2122.6 L589.9 2123.6 L591.9 2124.6 L593.9 2125.6 L595.9 2126.6 L597.9 2127.7 L599.9 2128.7 L601.9 2129.7 L604 2130.8 L606 2131.8 L608 2132.9 L610 2133.9 L612 2135 L614 2136 L616.1 2138.3 L618.2 2140.6 L620.3 2142.9 L622.3 2145.2 L624.4 2147.5 L626.5 2149.8 L628.6 2152.2 L630.7 2154.5 L632.8 2156.9 L634.9 2159.2 L636.9 2161.5 L639 2163.9 L641.1 2166.2 L643.2 2168.5 L645.3 2170.8 L647.4 2173.1 L649.4 2175.4 L651.5 2177.7 L653.6 2180 L655.7 2182.3" fill="none" stroke="#0072bd" stroke-width="2.7" stroke-linejoin="round"/>
<line x1="110" y1="1890.5" x2="110" y2="2332.8" stroke="#e8e8e8" stroke-width="5.6"/>
<line x1="692.6" y1="1890.5" x2="692.6" y2="2332.8" stroke="#f0f0f0" stroke-width="3.0"/>
<line x1="689.5" y1="1890.5" x2="689.5" y2="2332.8" stroke="#dcdcdc" stroke-width="3.2"/>
<line x1="107.2" y1="1891.7" x2="691.1" y2="1891.7" stroke="#a0a0a0" stroke-width="2.6"/>
<line x1="107.2" y1="2331" x2="691.1" y2="2331" stroke="#a8a8a8" stroke-width="2.6"/>
<line x1="206.5" y1="2329.8" x2="206.5" y2="2323.8" stroke="#707070" stroke-width="1.6"/>
<line x1="206.5" y1="1893" x2="206.5" y2="1899" stroke="#707070" stroke-width="1.6"/>
<line x1="303.2" y1="2329.8" x2="303.2" y2="2323.8" stroke="#707070" stroke-width="1.6"/>
<line x1="303.2" y1="1893" x2="303.2" y2="1899" stroke="#707070" stroke-width="1.6"/>
<line x1="400" y1="2329.8" x2="400" y2="2323.8" stroke="#707070" stroke-width="1.6"/>
<line x1="400" y1="1893" x2="400" y2="1899" stroke="#707070" stroke-width="1.6"/>
<line x1="496.8" y1="2329.8" x2="496.8" y2="2323.8" stroke="#707070" stroke-width="1.6"/>
<line x1="496.8" y1="1893" x2="496.8" y2="1899" stroke="#707070" stroke-width="1.6"/>
<line x1="593.5" y1="2329.8" x2="593.5" y2="2323.8" stroke="#707070" stroke-width="1.6"/>
<line x1="593.5" y1="1893" x2="593.5" y2="1899" stroke="#707070" stroke-width="1.6"/>
<text x="0" y="0" font-size="25.7" text-anchor="end" fill="#3a3a3a" transform="translate(101 1903.2) scale(1 1.04)">0.2</text>
<line x1="110" y1="1954.7" x2="115.2" y2="1954.7" stroke="#707070" stroke-width="1.6"/>
<line x1="689" y1="1954.7" x2="683.8" y2="1954.7" stroke="#707070" stroke-width="1.6"/>
<text x="0" y="0" font-size="25.7" text-anchor="end" fill="#3a3a3a" transform="translate(101 1965.9) scale(1 1.04)">0.1</text>
<line x1="110" y1="2017.4" x2="115.2" y2="2017.4" stroke="#707070" stroke-width="1.6"/>
<line x1="689" y1="2017.4" x2="683.8" y2="2017.4" stroke="#707070" stroke-width="1.6"/>
<text x="0" y="0" font-size="25.7" text-anchor="end" fill="#3a3a3a" transform="translate(101 2028.6) scale(1 1.04)">0</text>
<line x1="110" y1="2080.1" x2="115.2" y2="2080.1" stroke="#707070" stroke-width="1.6"/>
<line x1="689" y1="2080.1" x2="683.8" y2="2080.1" stroke="#707070" stroke-width="1.6"/>
<text x="0" y="0" font-size="25.7" text-anchor="end" fill="#3a3a3a" transform="translate(101 2091.3) scale(1 1.04)">-0.1</text>
<line x1="110" y1="2142.8" x2="115.2" y2="2142.8" stroke="#707070" stroke-width="1.6"/>
<line x1="689" y1="2142.8" x2="683.8" y2="2142.8" stroke="#707070" stroke-width="1.6"/>
<text x="0" y="0" font-size="25.7" text-anchor="end" fill="#3a3a3a" transform="translate(101 2154) scale(1 1.04)">-0.2</text>
<line x1="110" y1="2205.5" x2="115.2" y2="2205.5" stroke="#707070" stroke-width="1.6"/>
<line x1="689" y1="2205.5" x2="683.8" y2="2205.5" stroke="#707070" stroke-width="1.6"/>
<text x="0" y="0" font-size="25.7" text-anchor="end" fill="#3a3a3a" transform="translate(101 2216.7) scale(1 1.04)">-0.3</text>
<line x1="110" y1="2268.2" x2="115.2" y2="2268.2" stroke="#707070" stroke-width="1.6"/>
<line x1="689" y1="2268.2" x2="683.8" y2="2268.2" stroke="#707070" stroke-width="1.6"/>
<text x="0" y="0" font-size="25.7" text-anchor="end" fill="#3a3a3a" transform="translate(101 2279.4) scale(1 1.04)">-0.4</text>
<text x="0" y="0" font-size="25.7" text-anchor="end" fill="#3a3a3a" transform="translate(101 2342) scale(1 1.04)">-0.5</text>
<text x="0" y="0" font-size="25.7" text-anchor="middle" fill="#3a3a3a" transform="translate(109.2 2367) scale(1 1.04)">-1500</text>
<text x="0" y="0" font-size="25.7" text-anchor="middle" fill="#3a3a3a" transform="translate(206 2367) scale(1 1.04)">-1000</text>
<text x="0" y="0" font-size="25.7" text-anchor="middle" fill="#3a3a3a" transform="translate(302.8 2367) scale(1 1.04)">-500</text>
<text x="0" y="0" font-size="25.7" text-anchor="middle" fill="#3a3a3a" transform="translate(401 2367) scale(1 1.04)">0</text>
<text x="0" y="0" font-size="25.7" text-anchor="middle" fill="#3a3a3a" transform="translate(497.8 2367) scale(1 1.04)">500</text>
<text x="0" y="0" font-size="25.7" text-anchor="middle" fill="#3a3a3a" transform="translate(594.5 2367) scale(1 1.04)">1000</text>
<text x="0" y="0" font-size="25.7" text-anchor="middle" fill="#3a3a3a" transform="translate(691.2 2367) scale(1 1.04)">1500</text>
<text x="0" y="0" font-size="32.7" text-anchor="middle" fill="#3a3a3a" transform="translate(400 2406.7) scale(1 1.02)">large PCA scores 2</text>
<text x="0" y="0" font-size="32" text-anchor="middle" fill="#3a3a3a" transform="translate(44.8 2111.4) rotate(-90) scale(1 1.02)">aribitrary units</text>
</g>
<g id="chartD">
<path d="M1907.5 1471 L2004.7 1559.9 L2083.2 1707.6 L2151.2 1854 L1900 1482.8 Z" fill="none" stroke="#0000ff" stroke-width="8" stroke-linejoin="miter"/>
<text x="0" y="0" font-size="21" text-anchor="middle" fill="#0000ff" transform="translate(1961.6 1561) scale(1 1.04)" opacity="0.75">1</text>
<text x="0" y="0" font-size="21" text-anchor="middle" fill="#0000ff" transform="translate(1989.6 1598.9) scale(1 1.04)" opacity="0.75">1</text>
<text x="0" y="0" font-size="21" text-anchor="middle" fill="#0000ff" transform="translate(2001.6 1626.3) scale(1 1.04)" opacity="0.75">1</text>
<text x="0" y="0" font-size="21" text-anchor="middle" fill="#0000ff" transform="translate(2009.4 1568.6) scale(1 1.04)" opacity="0.75">1</text>
<text x="0" y="0" font-size="21" text-anchor="middle" fill="#0000ff" transform="translate(2086.5 1715.2) scale(1 1.04)" opacity="0.75">1</text>
<text x="0" y="0" font-size="21" text-anchor="middle" fill="#0000ff" transform="translate(2159.5 1864.3) scale(1 1.04)" opacity="0.75">1</text>
<text x="0" y="0" font-size="21" text-anchor="middle" fill="#0000ff" transform="translate(1975 1536.1) scale(1 1.04)" opacity="0.75">1</text>
<text x="0" y="0" font-size="21" text-anchor="middle" fill="#0000ff" transform="translate(1909.5 1476.3) scale(1 1.04)" opacity="0.75">1</text>
<path d="M1554.4 1462.8 L1625.9 1384.5 L1680.3 1377.1 L1733.5 1379.2 L1758 1407 L1797 1462.8 Z" fill="none" stroke="#ff0000" stroke-width="8" stroke-linejoin="miter"/>
<text x="0" y="0" font-size="21" text-anchor="middle" fill="#ff0000" transform="translate(1661 1417.6) scale(1 1.04)" opacity="0.75">2</text>
<text x="0" y="0" font-size="21" text-anchor="middle" fill="#ff0000" transform="translate(1681 1432.6) scale(1 1.04)" opacity="0.75">2</text>
<text x="0" y="0" font-size="21" text-anchor="middle" fill="#ff0000" transform="translate(1708 1461.6) scale(1 1.04)" opacity="0.75">2</text>
<text x="0" y="0" font-size="21" text-anchor="middle" fill="#ff0000" transform="translate(1631.2 1400.6) scale(1 1.04)" opacity="0.75">2</text>
<text x="0" y="0" font-size="21" text-anchor="middle" fill="#ff0000" transform="translate(1680.3 1385.6) scale(1 1.04)" opacity="0.75">2</text>
<text x="0" y="0" font-size="21" text-anchor="middle" fill="#ff0000" transform="translate(1717.6 1394.3) scale(1 1.04)" opacity="0.75">2</text>
<text x="0" y="0" font-size="21" text-anchor="middle" fill="#ff0000" transform="translate(1734.7 1386.8) scale(1 1.04)" opacity="0.75">2</text>
<text x="0" y="0" font-size="21" text-anchor="middle" fill="#ff0000" transform="translate(1759.2 1411.3) scale(1 1.04)" opacity="0.75">2</text>
<text x="0" y="0" font-size="21" text-anchor="middle" fill="#ff0000" transform="translate(1557.6 1473.2) scale(1 1.04)" opacity="0.75">2</text>
<text x="0" y="0" font-size="21" text-anchor="middle" fill="#ff0000" transform="translate(1799.7 1473.2) scale(1 1.04)" opacity="0.75">2</text>
<path d="M1644 1464.5 L1744 1547.5 L1184 2082.7 L1495.7 1603.8 L1615.5 1481.6 Z" fill="none" stroke="#00ff00" stroke-width="8" stroke-linejoin="miter"/>
<text x="0" y="0" font-size="21" text-anchor="middle" fill="#00ff00" transform="translate(1438.7 1771.6) scale(1 1.04)" opacity="0.75">3</text>
<text x="0" y="0" font-size="21" text-anchor="middle" fill="#00ff00" transform="translate(1491.5 1646.6) scale(1 1.04)" opacity="0.75">3</text>
<text x="0" y="0" font-size="21" text-anchor="middle" fill="#00ff00" transform="translate(1532 1618.4) scale(1 1.04)" opacity="0.75">3</text>
<text x="0" y="0" font-size="21" text-anchor="middle" fill="#00ff00" transform="translate(1644.3 1601.5) scale(1 1.04)" opacity="0.75">3</text>
<text x="0" y="0" font-size="21" text-anchor="middle" fill="#00ff00" transform="translate(1644.3 1657.6) scale(1 1.04)" opacity="0.75">3</text>
<text x="0" y="0" font-size="21" text-anchor="middle" fill="#00ff00" transform="translate(1503.8 1613.1) scale(1 1.04)" opacity="0.75">3</text>
<text x="0" y="0" font-size="21" text-anchor="middle" fill="#00ff00" transform="translate(1750 1556.6) scale(1 1.04)" opacity="0.75">3</text>
<text x="0" y="0" font-size="21" text-anchor="middle" fill="#00ff00" transform="translate(1620.7 1491.6) scale(1 1.04)" opacity="0.75">3</text>
<text x="0" y="0" font-size="21" text-anchor="middle" fill="#00ff00" transform="translate(1191 2092.1) scale(1 1.04)" opacity="0.75">3</text>
<text x="0" y="0" font-size="21" text-anchor="middle" fill="#00ff00" transform="translate(1647 1468.6) scale(1 1.04)" opacity="0.75">3</text>
<path d="M1715.9 1369 L1774.5 1343.6 L1870.7 1443.7 L1867.6 1500.8 L1813.5 1458.8 L1782.5 1440.2 Z" fill="none" stroke="#ff19c8" stroke-width="8" stroke-linejoin="miter"/>
<text x="0" y="0" font-size="21" text-anchor="middle" fill="#ff19c8" transform="translate(1792.8 1379.9) scale(1 1.04)" opacity="0.75">4</text>
<text x="0" y="0" font-size="21" text-anchor="middle" fill="#ff19c8" transform="translate(1785.3 1440.6) scale(1 1.04)" opacity="0.75">4</text>
<text x="0" y="0" font-size="21" text-anchor="middle" fill="#ff19c8" transform="translate(1815.2 1459.9) scale(1 1.04)" opacity="0.75">4</text>
<text x="0" y="0" font-size="21" text-anchor="middle" fill="#ff19c8" transform="translate(1877.6 1450.3) scale(1 1.04)" opacity="0.75">4</text>
<text x="0" y="0" font-size="21" text-anchor="middle" fill="#ff19c8" transform="translate(1872.8 1512.1) scale(1 1.04)" opacity="0.75">4</text>
<text x="0" y="0" font-size="21" text-anchor="middle" fill="#ff19c8" transform="translate(1779.5 1348.4) scale(1 1.04)" opacity="0.75">4</text>
<text x="0" y="0" font-size="21" text-anchor="middle" fill="#ff19c8" transform="translate(1710.7 1376.6) scale(1 1.04)" opacity="0.75">4</text>
<line x1="1010.9" y1="1284.9" x2="1010.9" y2="2247.4" stroke="#929292" stroke-width="3.6"/>
<line x1="1009.1" y1="2245" x2="2267.8" y2="2245" stroke="#bcbcbc" stroke-width="4.8"/>
<line x1="1009.3" y1="1286.2" x2="2267.8" y2="1286.2" stroke="#404040" stroke-width="2.6"/>
<line x1="2266.5" y1="1286.2" x2="2266.5" y2="2245" stroke="#404040" stroke-width="2.6"/>
<line x1="1051" y1="2242.6" x2="1051" y2="2231.2" stroke="#7a7a7a" stroke-width="2.6"/>
<line x1="1051" y1="1287.2" x2="1051" y2="1300.2" stroke="#909090" stroke-width="2.5"/>
<text x="0" y="0" font-size="55" text-anchor="middle" fill="#262626" transform="translate(1049.5 2319) scale(1 1.04)">-15</text>
<line x1="1291.4" y1="2242.6" x2="1291.4" y2="2231.2" stroke="#7a7a7a" stroke-width="2.6"/>
<line x1="1291.4" y1="1287.2" x2="1291.4" y2="1300.2" stroke="#909090" stroke-width="2.5"/>
<text x="0" y="0" font-size="55" text-anchor="middle" fill="#262626" transform="translate(1289.9 2319) scale(1 1.04)">-10</text>
<line x1="1531.8" y1="2242.6" x2="1531.8" y2="2231.2" stroke="#7a7a7a" stroke-width="2.6"/>
<line x1="1531.8" y1="1287.2" x2="1531.8" y2="1300.2" stroke="#909090" stroke-width="2.5"/>
<text x="0" y="0" font-size="55" text-anchor="middle" fill="#262626" transform="translate(1530.3 2319) scale(1 1.04)">-5</text>
<line x1="1772.2" y1="2242.6" x2="1772.2" y2="2231.2" stroke="#7a7a7a" stroke-width="2.6"/>
<line x1="1772.2" y1="1287.2" x2="1772.2" y2="1300.2" stroke="#404040" stroke-width="2.5"/>
<text x="0" y="0" font-size="55" text-anchor="middle" fill="#262626" transform="translate(1772.2 2319) scale(1 1.04)">0</text>
<line x1="2012.6" y1="2242.6" x2="2012.6" y2="2231.2" stroke="#7a7a7a" stroke-width="2.6"/>
<line x1="2012.6" y1="1287.2" x2="2012.6" y2="1300.2" stroke="#404040" stroke-width="2.5"/>
<text x="0" y="0" font-size="55" text-anchor="middle" fill="#262626" transform="translate(2012.6 2319) scale(1 1.04)">5</text>
<line x1="2253" y1="2242.6" x2="2253" y2="2231.2" stroke="#7a7a7a" stroke-width="2.6"/>
<line x1="2253" y1="1287.2" x2="2253" y2="1300.2" stroke="#404040" stroke-width="2.5"/>
<text x="0" y="0" font-size="55" text-anchor="middle" fill="#262626" transform="translate(2253 2319) scale(1 1.04)">10</text>
<line x1="1012.4" y1="2236.3" x2="1024.4" y2="2236.3" stroke="#505050" stroke-width="2"/>
<line x1="2265.2" y1="2236.3" x2="2253.5" y2="2236.3" stroke="#505050" stroke-width="2"/>
<text x="0" y="0" font-size="55" text-anchor="end" fill="#262626" transform="translate(992 2259.7) scale(1 1.04)">-10</text>
<line x1="1012.4" y1="2096.4" x2="1024.4" y2="2096.4" stroke="#505050" stroke-width="2"/>
<line x1="2265.2" y1="2096.4" x2="2253.5" y2="2096.4" stroke="#505050" stroke-width="2"/>
<text x="0" y="0" font-size="55" text-anchor="end" fill="#262626" transform="translate(992 2119.8) scale(1 1.04)">-8</text>
<line x1="1012.4" y1="1956.5" x2="1024.4" y2="1956.5" stroke="#505050" stroke-width="2"/>
<line x1="2265.2" y1="1956.5" x2="2253.5" y2="1956.5" stroke="#505050" stroke-width="2"/>
<text x="0" y="0" font-size="55" text-anchor="end" fill="#262626" transform="translate(992 1979.9) scale(1 1.04)">-6</text>
<line x1="1012.4" y1="1816.6" x2="1024.4" y2="1816.6" stroke="#505050" stroke-width="2"/>
<line x1="2265.2" y1="1816.6" x2="2253.5" y2="1816.6" stroke="#505050" stroke-width="2"/>
<text x="0" y="0" font-size="55" text-anchor="end" fill="#262626" transform="translate(992 1840) scale(1 1.04)">-4</text>
<line x1="1012.4" y1="1676.7" x2="1024.4" y2="1676.7" stroke="#505050" stroke-width="2"/>
<line x1="2265.2" y1="1676.7" x2="2253.5" y2="1676.7" stroke="#505050" stroke-width="2"/>
<text x="0" y="0" font-size="55" text-anchor="end" fill="#262626" transform="translate(992 1700.1) scale(1 1.04)">-2</text>
<line x1="1012.4" y1="1536.8" x2="1024.4" y2="1536.8" stroke="#505050" stroke-width="2"/>
<line x1="2265.2" y1="1536.8" x2="2253.5" y2="1536.8" stroke="#505050" stroke-width="2"/>
<text x="0" y="0" font-size="55" text-anchor="end" fill="#262626" transform="translate(992 1560.2) scale(1 1.04)">0</text>
<line x1="1012.4" y1="1396.9" x2="1024.4" y2="1396.9" stroke="#505050" stroke-width="2"/>
<line x1="2265.2" y1="1396.9" x2="2253.5" y2="1396.9" stroke="#505050" stroke-width="2"/>
<text x="0" y="0" font-size="55" text-anchor="end" fill="#262626" transform="translate(992 1420.3) scale(1 1.04)">2</text>
<text x="0" y="0" font-size="62.3" text-anchor="middle" fill="#262626" transform="translate(1640 2398.4) scale(1 1.02)">Principal Component 1 (74 %)</text>
<text x="0" y="0" font-size="61.3" text-anchor="middle" fill="#262626" transform="translate(886.8 1758) rotate(-90) scale(1 1.02)">Principal component 2 (20 %)</text>
</g>
</svg>
</body></html>
